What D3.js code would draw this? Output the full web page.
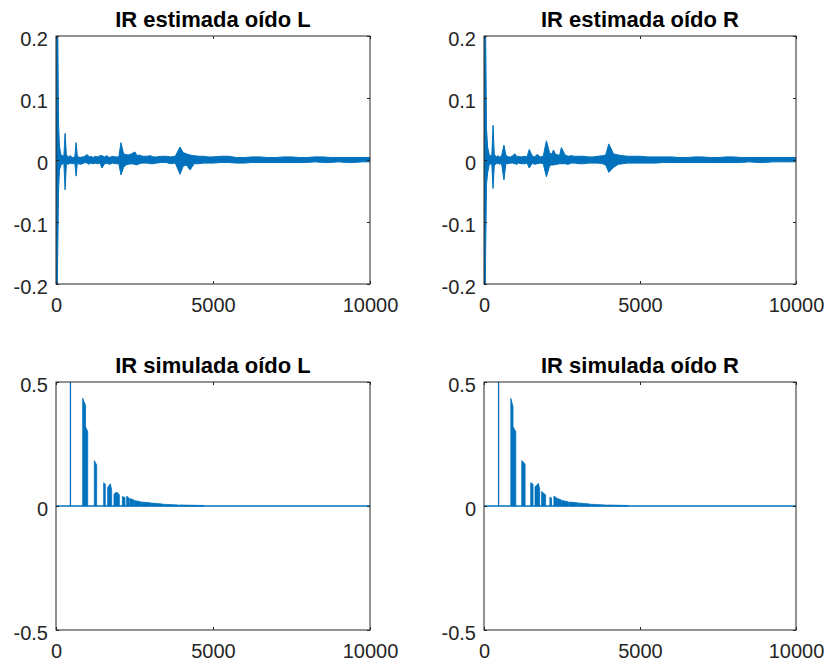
<!DOCTYPE html>
<html>
<head>
<meta charset="utf-8">
<script src="https://cdn.jsdelivr.net/npm/d3@7"></script>
<style>
  body { margin: 0; background: #fff; }
  text { font-family: "Liberation Sans", Arial, Helvetica, sans-serif; }
</style>
</head>
<body>
<div id="chart"></div>
<script>
// ---- data ----
var xTicks = [0, 5000, 10000];
var xTickLabels = ["0", "5000", "10000"];
var estYTicks = [-0.2, -0.1, 0, 0.1, 0.2];
var estYTickLabels = ["-0.2", "-0.1", "0", "0.1", "0.2"];
var simYTicks = [-0.5, 0, 0.5];
var simYTickLabels = ["-0.5", "0", "0.5"];
var titles = ["IR estimada oído L", "IR estimada oído R", "IR simulada oído L", "IR simulada oído R"];

// estimated IR: envelope (sample, max, min)
var estL_n  = [0, 15, 50, 80, 110, 160, 250, 290, 330, 400, 450, 520, 600, 640, 680, 760, 850, 920, 990, 1060, 1100, 1180, 1250, 1330, 1400, 1465, 1550, 1620, 1700, 1800, 1880, 2000, 2070, 2150, 2220, 2300, 2400, 2515, 2580, 2650, 2760, 2900, 3000, 3100, 3200, 3350, 3500, 3650, 3800, 3950, 4050, 4150, 4270, 4400, 4550, 4700, 4850, 5000, 5250, 5500, 5750, 6000, 6250, 6500, 6750, 7000, 7250, 7500, 7750, 8000, 8250, 8500, 8750, 9000, 9250, 9500, 9750, 10000];
var estL_hi = [0, 0.42, 0.25, 0.06, 0.022, 0.008, 0.006, 0.043, 0.008, 0.005, 0.007, 0.004, 0.005, 0.028, 0.006, 0.004, 0.005, 0.006, 0.009, 0.005, 0.006, 0.004, 0.006, 0.005, 0.007, 0.007, 0.005, 0.007, 0.004, 0.006, 0.005, 0.005, 0.028, 0.010, 0.009, 0.008, 0.010, 0.013, 0.007, 0.008, 0.006, 0.006, 0.007, 0.005, 0.005, 0.006, 0.006, 0.005, 0.006, 0.021, 0.012, 0.010, 0.008, 0.007, 0.006, 0.006, 0.005, 0.005, 0.006, 0.006, 0.004, 0.004, 0.005, 0.005, 0.004, 0.004, 0.005, 0.005, 0.004, 0.004, 0.005, 0.005, 0.004, 0.004, 0.004, 0.004, 0.004, 0.004];
var estL_lo = [0, -0.35, -0.17, -0.05, -0.016, -0.008, -0.005, -0.048, -0.006, -0.007, -0.005, -0.006, -0.005, -0.026, -0.005, -0.007, -0.006, -0.004, -0.005, -0.007, -0.005, -0.006, -0.005, -0.006, -0.005, -0.013, -0.006, -0.005, -0.007, -0.005, -0.006, -0.006, -0.024, -0.012, -0.008, -0.007, -0.006, -0.007, -0.008, -0.006, -0.005, -0.005, -0.006, -0.006, -0.005, -0.004, -0.004, -0.006, -0.005, -0.023, -0.010, -0.008, -0.016, -0.006, -0.006, -0.005, -0.005, -0.005, -0.004, -0.004, -0.005, -0.005, -0.004, -0.004, -0.004, -0.004, -0.004, -0.004, -0.004, -0.004, -0.003, -0.004, -0.004, -0.003, -0.004, -0.004, -0.003, -0.003];

var estR_n  = [0, 15, 50, 80, 118, 170, 250, 290, 330, 400, 450, 500, 560, 640, 700, 770, 850, 920, 990, 1060, 1100, 1200, 1300, 1380, 1450, 1550, 1620, 1700, 1800, 1900, 2000, 2100, 2160, 2230, 2300, 2350, 2420, 2480, 2600, 2700, 2800, 2900, 3050, 3200, 3350, 3500, 3650, 3800, 3900, 4000, 4150, 4300, 4450, 4600, 4800, 5000, 5250, 5500, 5750, 6000, 6250, 6500, 6750, 7000, 7250, 7500, 7750, 8000, 8250, 8500, 8750, 9000, 9250, 9500, 9750, 10000];
var estR_hi = [0, 0.40, 0.22, 0.05, 0.020, 0.008, 0.006, 0.056, 0.009, 0.005, 0.007, 0.005, 0.006, 0.024, 0.008, 0.005, 0.005, 0.007, 0.010, 0.005, 0.006, 0.005, 0.006, 0.005, 0.017, 0.006, 0.005, 0.009, 0.005, 0.006, 0.031, 0.012, 0.009, 0.016, 0.008, 0.009, 0.007, 0.020, 0.008, 0.006, 0.007, 0.006, 0.006, 0.006, 0.005, 0.005, 0.006, 0.007, 0.008, 0.026, 0.010, 0.008, 0.007, 0.006, 0.006, 0.006, 0.005, 0.005, 0.005, 0.005, 0.004, 0.004, 0.005, 0.005, 0.004, 0.004, 0.005, 0.005, 0.004, 0.004, 0.004, 0.004, 0.004, 0.004, 0.004, 0.004];
var estR_lo = [0, -0.38, -0.16, -0.04, -0.020, -0.007, -0.006, -0.046, -0.008, -0.006, -0.005, -0.007, -0.005, -0.032, -0.006, -0.006, -0.005, -0.005, -0.006, -0.007, -0.005, -0.006, -0.006, -0.005, -0.013, -0.005, -0.007, -0.006, -0.005, -0.006, -0.027, -0.010, -0.008, -0.008, -0.007, -0.007, -0.006, -0.006, -0.006, -0.007, -0.005, -0.005, -0.006, -0.006, -0.005, -0.005, -0.005, -0.006, -0.008, -0.020, -0.012, -0.007, -0.006, -0.005, -0.005, -0.005, -0.005, -0.005, -0.004, -0.004, -0.004, -0.004, -0.004, -0.004, -0.004, -0.004, -0.004, -0.004, -0.004, -0.003, -0.004, -0.004, -0.003, -0.003, -0.003, -0.003];

// simulated IR: direct sound spike + reflection clusters (start, end, value at start, value at end)
var simL_direct = [460, 1.0];
var simL_start = [850, 945, 1220, 1518, 1645, 1730, 1847, 1932, 2113, 2251, 2360, 2500, 2720, 3020, 3420, 3920];
var simL_end   = [940, 1010, 1295, 1570, 1730, 1773, 1932, 2017, 2198, 2336, 2480, 2700, 3000, 3400, 3900, 4714];
var simL_v0    = [0.434, 0.318, 0.183, 0.094, 0.075, 0.089, 0.048, 0.056, 0.038, 0.040, 0.030, 0.022, 0.016, 0.012, 0.007, 0.004];
var simL_v1    = [0.405, 0.300, 0.165, 0.088, 0.089, 0.065, 0.056, 0.045, 0.034, 0.030, 0.024, 0.017, 0.013, 0.008, 0.004, 0.002];

var simR_direct = [467, 1.0];
var simR_start = [860, 934, 1210, 1497, 1635, 1742, 1847, 2112, 2240, 2360, 2500, 2720, 3020, 3420, 3920];
var simR_end   = [930, 1019, 1316, 1571, 1742, 1784, 1975, 2165, 2350, 2480, 2700, 3000, 3400, 3900, 4628];
var simR_v0    = [0.434, 0.318, 0.183, 0.094, 0.078, 0.090, 0.058, 0.035, 0.040, 0.030, 0.022, 0.016, 0.012, 0.007, 0.004];
var simR_v1    = [0.400, 0.300, 0.170, 0.088, 0.090, 0.070, 0.045, 0.032, 0.030, 0.024, 0.017, 0.013, 0.008, 0.004, 0.002];

// ---- drawing ----
var width = 828, height = 664;
var blue = "#0072BD", axisColor = "#262626";

var svg = d3.select("#chart").append("svg")
  .attr("width", width)
  .attr("height", height);

// panel boxes (left, right, top, bottom)
var panels = [
  {x0: 56, x1: 370, y0: 36, y1: 284},
  {x0: 484, x1: 796, y0: 36, y1: 284},
  {x0: 56, x1: 370, y0: 382, y1: 630},
  {x0: 484, x1: 796, y0: 382, y1: 630}
];

function makeAxes(i, yDomain, yTicks, yLabels) {
  var p = panels[i];
  var x = d3.scaleLinear().domain([0, 10000]).range([p.x0, p.x1]);
  var y = d3.scaleLinear().domain(yDomain).range([p.y1, p.y0]);

  var g = svg.append("g");

  g.append("clipPath").attr("id", "clip" + i)
    .append("rect")
    .attr("x", p.x0).attr("y", p.y0)
    .attr("width", p.x1 - p.x0).attr("height", p.y1 - p.y0);

  var plot = g.append("g").attr("clip-path", "url(#clip" + i + ")");

  // axes with inward ticks on all four sides
  var bottom = g.append("g").attr("transform", "translate(0," + p.y1 + ")")
    .call(d3.axisBottom(x).tickValues(xTicks).tickFormat(function(d, k) { return xTickLabels[k]; })
      .tickSizeInner(-3).tickSizeOuter(0).tickPadding(14));
  var top = g.append("g").attr("transform", "translate(0," + p.y0 + ")")
    .call(d3.axisTop(x).tickValues(xTicks).tickFormat("").tickSizeInner(-3).tickSizeOuter(0));
  var left = g.append("g").attr("transform", "translate(" + p.x0 + ",0)")
    .call(d3.axisLeft(y).tickValues(yTicks).tickFormat(function(d, k) { return yLabels[k]; })
      .tickSizeInner(-3).tickSizeOuter(0).tickPadding(8));
  var right = g.append("g").attr("transform", "translate(" + p.x1 + ",0)")
    .call(d3.axisRight(y).tickValues(yTicks).tickFormat("").tickSizeInner(-3).tickSizeOuter(0));

  [bottom, top, left, right].forEach(function(a) {
    a.select(".domain").remove();
    a.selectAll("line").attr("stroke", axisColor);
    a.selectAll("text").attr("fill", axisColor).style("font-size", "20px")
      .style("font-family", "'Liberation Sans', Arial, sans-serif");
  });
  left.selectAll("text").attr("dy", "0.46em");

  g.append("rect")
    .attr("x", p.x0).attr("y", p.y0)
    .attr("width", p.x1 - p.x0).attr("height", p.y1 - p.y0)
    .attr("fill", "none").attr("stroke", axisColor).attr("stroke-width", 1);

  g.append("text")
    .attr("x", (p.x0 + p.x1) / 2).attr("y", p.y0 - 9)
    .attr("text-anchor", "middle")
    .style("font-size", "22px").style("font-weight", "bold")
    .attr("fill", "#000")
    .text(titles[i]);

  return {x: x, y: y, plot: plot};
}

function drawEstimate(i, ns, his, los) {
  var a = makeAxes(i, [-0.2, 0.2], estYTicks, estYTickLabels);
  var pts = ns.map(function(n, k) { return {n: n, hi: his[k], lo: los[k]}; })
    .filter(function(d) { return d.hi !== undefined && d.lo !== undefined; });
  var area = d3.area()
    .x(function(d) { return a.x(d.n); })
    .y0(function(d) { return a.y(d.lo); })
    .y1(function(d) { return a.y(d.hi); });
  a.plot.append("path").datum(pts)
    .attr("d", area)
    .attr("fill", blue).attr("stroke", blue).attr("stroke-width", 1)
    .attr("stroke-linejoin", "round");
}

function drawSimulated(i, direct, starts, ends, v0s, v1s) {
  var a = makeAxes(i, [-0.5, 0.5], simYTicks, simYTickLabels);
  // zero line
  a.plot.append("line")
    .attr("x1", a.x(0)).attr("x2", a.x(10000))
    .attr("y1", a.y(0)).attr("y2", a.y(0))
    .attr("stroke", blue).attr("stroke-width", 1.3);
  // direct sound
  a.plot.append("line")
    .attr("x1", a.x(direct[0])).attr("x2", a.x(direct[0]))
    .attr("y1", a.y(0)).attr("y2", a.y(direct[1]))
    .attr("stroke", blue).attr("stroke-width", 1.3);
  // reflections
  var clusters = starts.map(function(s, k) { return [[s, 0], [s, v0s[k]], [ends[k], v1s[k]], [ends[k], 0]]; });
  var line = d3.line().x(function(d) { return a.x(d[0]); }).y(function(d) { return a.y(d[1]); });
  a.plot.selectAll("path.refl").data(clusters).enter().append("path")
    .attr("class", "refl")
    .attr("d", function(d) { return line(d) + "Z"; })
    .attr("fill", blue).attr("stroke", blue).attr("stroke-width", 0.8);
}

drawEstimate(0, estL_n, estL_hi, estL_lo);
drawEstimate(1, estR_n, estR_hi, estR_lo);
drawSimulated(2, simL_direct, simL_start, simL_end, simL_v0, simL_v1);
drawSimulated(3, simR_direct, simR_start, simR_end, simR_v0, simR_v1);
</script>
</body>
</html>
